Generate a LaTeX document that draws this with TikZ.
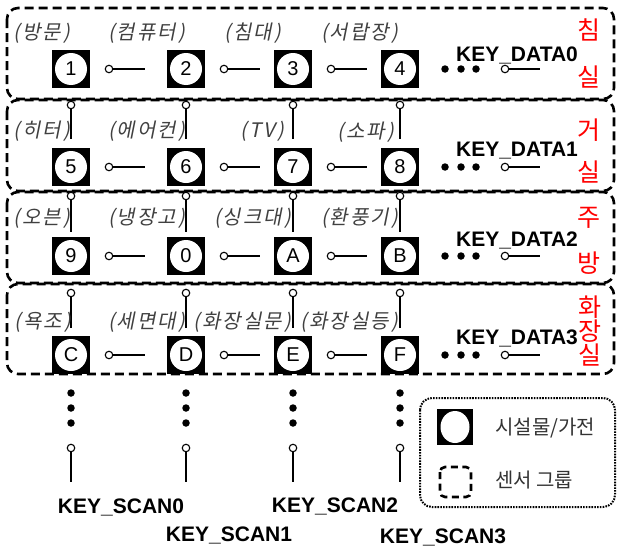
\documentclass[tikz,border=0pt]{standalone}
\usepackage{fontspec}
\setmainfont{Liberation Sans}
\newfontfamily\kr{Noto Sans CJK KR}
\newfontfamily\krit[FakeSlant=0.2,LetterSpace=10]{Noto Sans CJK KR}
\usetikzlibrary{shapes.geometric}
\definecolor{lblgray}{HTML}{404040}
\begin{document}
\begin{tikzpicture}[x=1pt,y=-1pt,
  groupbox/.style={draw=black, line width=2.6pt, dash pattern=on 9pt off 5pt, rounded corners=11pt},
  legendbox/.style={draw=black, line width=2pt, dash pattern=on 1.6pt off 1.2pt, rounded corners=12pt},
  devbox/.style={fill=black, minimum size=38pt, inner sep=0pt},
  devcirc/.style={circle, fill=white, minimum size=32pt, inner sep=0pt, font=\fontsize{20}{20}\selectfont},
  contact/.style={circle, draw=black, fill=white, line width=1.1pt, minimum size=7.5pt, inner sep=0pt},
  wire/.style={line width=1.3pt},
  dot/.style={circle, fill=black, minimum size=7.5pt, inner sep=0pt},
  keytxt/.style={font=\bfseries\fontsize{21}{21}\selectfont, inner sep=0pt},
  room/.style={text=red, font=\kr\fontsize{25}{25}\selectfont, inner sep=0pt},
  devlbl/.style={text=lblgray, font=\krit\fontsize{20}{20}\selectfont, inner sep=0pt, anchor=east},
  legtxt/.style={text=black!80, font=\kr\fontsize{20}{20}\selectfont, inner sep=0pt, anchor=west}
]
\useasboundingbox (0,0) rectangle (618,546);

% sensor groups
\draw[groupbox] (7,8) rectangle (614,99);
\draw[groupbox] (7,100) rectangle (614,191);
\draw[groupbox] (7,192) rectangle (614,283);
\draw[groupbox] (7,284) rectangle (614,374);

% device nodes
\foreach \rr/\yy/\ta/\tb/\tc/\td in {0/69/1/2/3/4, 1/167/5/6/7/8, 2/256/9/0/A/B, 3/355/C/D/E/F}{
  \node[devbox] (d\rr0) at (71,\yy) {};  \node[devcirc] (n\rr0) at (d\rr0) {\ta};
  \node[devbox] (d\rr1) at (186,\yy) {}; \node[devcirc] (n\rr1) at (d\rr1) {\tb};
  \node[devbox] (d\rr2) at (293,\yy) {}; \node[devcirc] (n\rr2) at (d\rr2) {\tc};
  \node[devbox] (d\rr3) at (400,\yy) {}; \node[devcirc] (n\rr3) at (d\rr3) {\td};
  % horizontal switches
  \foreach \cc/\xx in {0/71,1/186,2/293}{
    \node[contact] (h\rr\cc) at (\xx+38,\yy) {};
    \coordinate (he\rr\cc) at (\xx+74,\yy);
    \draw[wire] (h\rr\cc) -- (he\rr\cc);
  }
  % data line
  \node[dot] (p\rr a) at (445,\yy) {};
  \node[dot] (p\rr b) at (461,\yy) {};
  \node[dot] (p\rr c) at (476,\yy) {};
  \node[contact] (k\rr) at (505,\yy) {};
  \coordinate (ke\rr) at (540,\yy);
  \draw[wire] (k\rr) -- (ke\rr);
}

% vertical switches between rows
\foreach \cc/\xx in {0/71,1/186,2/293,3/400}{
  \foreach \vv/\cy/\ey in {0/105/139, 1/196/232, 2/293/328}{
    \node[contact] (v\vv\cc) at (\xx,\cy) {};
    \coordinate (ve\vv\cc) at (\xx,\ey);
    \draw[wire] (v\vv\cc) -- (ve\vv\cc);
  }
  \node[dot] (q\cc a) at (\xx,393) {};
  \node[dot] (q\cc b) at (\xx,408) {};
  \node[dot] (q\cc c) at (\xx,423) {};
  \node[contact] (s\cc) at (\xx,448) {};
  \coordinate (se\cc) at (\xx,482);
  \draw[wire] (s\cc) -- (se\cc);
}

% KEY_DATA labels
\node[keytxt] (kd0) at (517,55) {KEY\_DATA0};
\node[keytxt] (kd1) at (517,151) {KEY\_DATA1};
\node[keytxt] (kd2) at (517,240) {KEY\_DATA2};
\node[keytxt] (kd3) at (517,338) {KEY\_DATA3};

% KEY_SCAN labels
\node[keytxt] (ks0) at (121,507) {KEY\_SCAN0};
\node[keytxt] (ks1) at (229,535) {KEY\_SCAN1};
\node[keytxt] (ks2) at (335,506) {KEY\_SCAN2};
\node[keytxt] (ks3) at (443,537) {KEY\_SCAN3};

% room names
\node[room] (r0a) at (589,30) {침};
\node[room] (r0b) at (589,77) {실};
\node[room] (r1a) at (589,130) {거};
\node[room] (r1b) at (589,172) {실};
\node[room] (r2a) at (589,218) {주};
\node[room] (r2b) at (589,263) {방};
\node[room] (r3a) at (590,307) {화};
\node[room] (r3b) at (590,331) {장};
\node[room] (r3c) at (590,355) {실};

% device labels
\node[devlbl] (l00) at (70,33) {(방문)};
\node[devlbl] (l01) at (185,33) {(컴퓨터)};
\node[devlbl] (l02) at (281,33) {(침대)};
\node[devlbl] (l03) at (398,33) {(서랍장)};
\node[devlbl] (l10) at (70,131) {(히터)};
\node[devlbl] (l11) at (185,131) {(에어컨)};
\node[devlbl] (l12) at (284,131) {(TV)};
\node[devlbl] (l13) at (394,132) {(소파)};
\node[devlbl] (l20) at (70,218) {(오븐)};
\node[devlbl] (l21) at (185,218) {(냉장고)};
\node[devlbl] (l22) at (291,218) {(싱크대)};
\node[devlbl] (l23) at (398,218) {(환풍기)};
\node[devlbl] (l30) at (71,322) {(욕조)};
\node[devlbl] (l31) at (185,322) {(세면대)};
\node[devlbl] (l32) at (291,322) {(화장실문)};
\node[devlbl] (l33) at (398,322) {(화장실등)};

% legend
\draw[legendbox] (420,398) rectangle (615,507);
\node[devbox, minimum size=36pt] (lg1) at (455,427) {};
\node[ellipse, fill=white, minimum width=29pt, minimum height=32pt, inner sep=0pt] (lg1c) at (lg1) {};
\node[legtxt] (lt1) at (495,428) {시설물/가전};
\draw[line width=2.6pt, dash pattern=on 7pt off 4.5pt, rounded corners=5pt] (440,467) rectangle (471,497);
\node[legtxt] (lt2) at (495,480) {센서 그룹};
\end{tikzpicture}
\end{document}
